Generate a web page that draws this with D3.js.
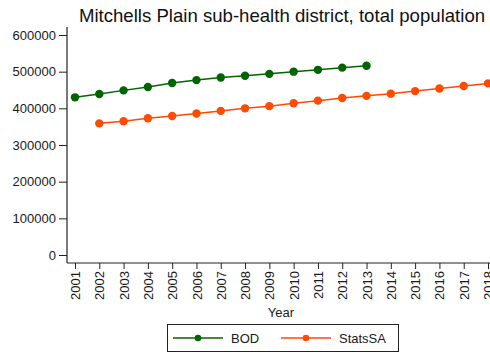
<!DOCTYPE html>
<html>
<head>
<meta charset="utf-8">
<script src="https://cdn.jsdelivr.net/npm/d3@7"></script>
<style>
  html, body { margin: 0; padding: 0; background: #fff; }
  svg { display: block; font-family: "Liberation Sans", Arial, sans-serif; }
</style>
</head>
<body>
<svg id="chart" width="490" height="354"></svg>
<script>
// Population estimates for Mitchells Plain sub-health district
const titleText = "Mitchells Plain sub-health district, total population";
const years = [2001, 2002, 2003, 2004, 2005, 2006, 2007, 2008, 2009,
               2010, 2011, 2012, 2013, 2014, 2015, 2016, 2017, 2018];
const bodYears = [2001, 2002, 2003, 2004, 2005, 2006, 2007, 2008, 2009, 2010, 2011, 2012, 2013];
const bodValues = [430000, 439000, 449000, 458000, 469000, 477000, 484000, 489000, 494000, 500000, 505000, 511000, 516000];
const statsYears = [2002, 2003, 2004, 2005, 2006, 2007, 2008, 2009, 2010, 2011, 2012, 2013, 2014, 2015, 2016, 2017, 2018];
const statsValues = [359000, 365000, 373000, 379000, 386000, 393000, 400000, 406000, 414000, 421000, 428000, 434000, 440000, 447000, 454000, 461000, 468000];
const yTicks = [0, 100000, 200000, 300000, 400000, 500000, 600000];
const seriesNames = ["BOD", "StatsSA"];
const seriesColors = ["#006400", "#ff4a00"];

const svg = d3.select("#chart");

const axisX = 67, axisY = 263;
const x = d3.scaleLinear().domain([2001, 2018]).range([75, 488]);
const y = d3.scaleLinear().domain([0, 600000]).range([255, 35]);

// title
svg.append("text")
  .attr("x", 282).attr("y", 22)
  .attr("text-anchor", "middle")
  .attr("font-size", 18.6)
  .attr("fill", "#111")
  .text(titleText);

// y axis
const yAxis = svg.append("g")
  .attr("transform", `translate(${axisX},0)`)
  .call(d3.axisLeft(y).tickValues(yTicks).tickSize(8).tickPadding(3).tickFormat(d3.format("d")));
yAxis.select(".domain").attr("d", `M0,27V${axisY}`).attr("stroke", "#222").attr("stroke-width", 1.2);
yAxis.selectAll(".tick line").attr("stroke", "#222");
yAxis.selectAll(".tick text")
  .attr("font-size", 13).attr("fill", "#1a1a1a")
  .attr("font-family", "Liberation Sans, Arial, sans-serif");

// x axis
const xAxis = svg.append("g")
  .attr("transform", `translate(0,${axisY})`)
  .call(d3.axisBottom(x).tickValues(years).tickSize(6).tickFormat(d3.format("d")));
xAxis.select(".domain").attr("d", `M${axisX},0H490`).attr("stroke", "#222").attr("stroke-width", 1.2);
xAxis.selectAll(".tick line").attr("stroke", "#222");
xAxis.selectAll(".tick text")
  .attr("font-size", 13).attr("fill", "#1a1a1a")
  .attr("font-family", "Liberation Sans, Arial, sans-serif")
  .attr("transform", "rotate(-90)")
  .attr("text-anchor", "end")
  .attr("x", -8).attr("y", 0).attr("dy", "0.35em");

// x axis title
svg.append("text")
  .attr("x", 281).attr("y", 317)
  .attr("text-anchor", "middle")
  .attr("font-size", 13).attr("fill", "#1a1a1a")
  .text("Year");

// series
const series = [
  { name: seriesNames[0], color: seriesColors[0], pts: bodYears.map((yr, i) => [yr, bodValues[i]]) },
  { name: seriesNames[1], color: seriesColors[1], pts: statsYears.map((yr, i) => [yr, statsValues[i]]) }
];
const line = d3.line().x(d => x(d[0])).y(d => y(d[1]));

series.forEach(s => {
  const g = svg.append("g");
  g.append("path").attr("d", line(s.pts))
    .attr("fill", "none").attr("stroke", s.color).attr("stroke-width", 1.5);
  g.selectAll("circle").data(s.pts).join("circle")
    .attr("cx", d => x(d[0])).attr("cy", d => y(d[1]))
    .attr("r", 4.2).attr("fill", s.color);
});

// legend
const legend = svg.append("g");
legend.append("rect")
  .attr("x", 167.5).attr("y", 324.5).attr("width", 231).attr("height", 27)
  .attr("fill", "#fff").attr("stroke", "#222").attr("stroke-width", 1);
const legendItems = [
  { x0: 173, tx: 231 },
  { x0: 281, tx: 339 }
];
series.forEach((s, i) => {
  const li = legendItems[i];
  legend.append("line")
    .attr("x1", li.x0).attr("x2", li.x0 + 50).attr("y1", 338).attr("y2", 338)
    .attr("stroke", s.color).attr("stroke-width", 1.3);
  legend.append("circle")
    .attr("cx", li.x0 + 25).attr("cy", 338).attr("r", 3.3).attr("fill", s.color);
  legend.append("text")
    .attr("x", li.tx).attr("y", 338).attr("dy", "0.35em")
    .attr("font-size", 13).attr("fill", "#1a1a1a")
    .text(s.name);
});
</script>
</body>
</html>
